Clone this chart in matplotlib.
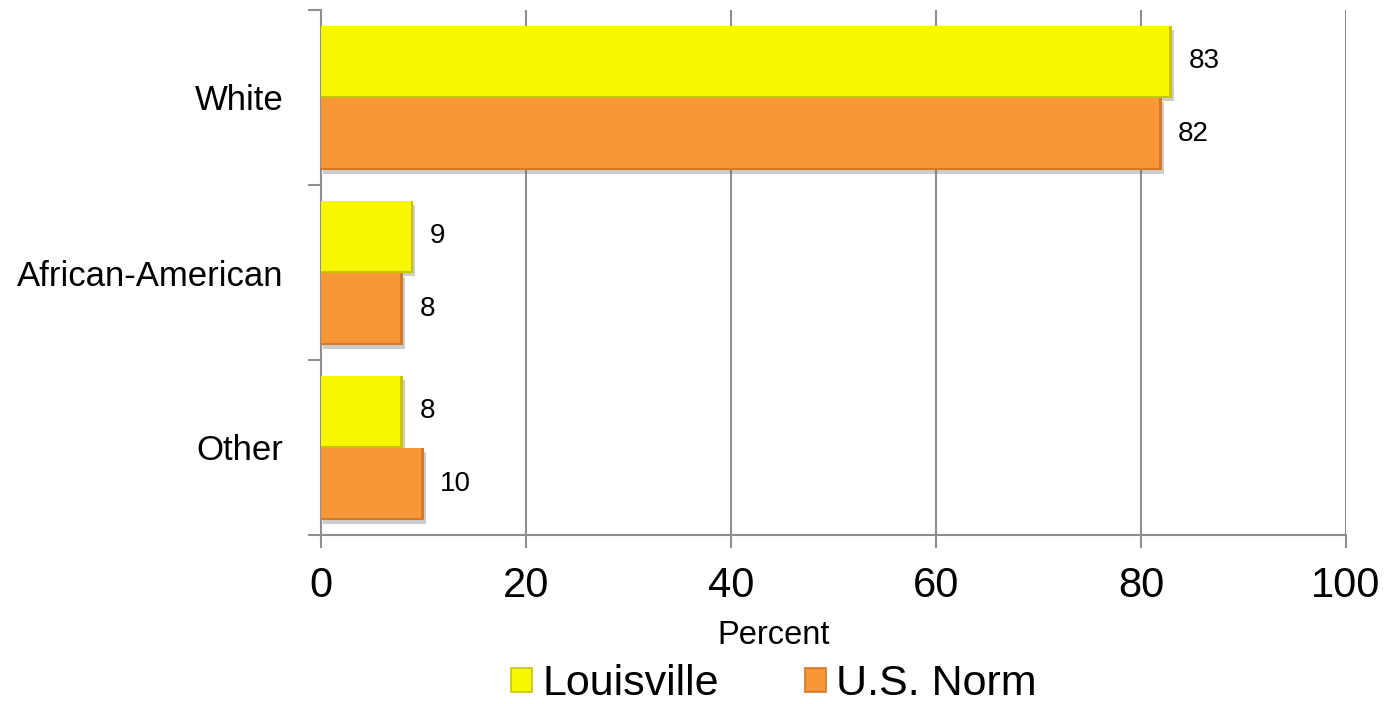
import matplotlib
matplotlib.use("Agg")
import matplotlib.pyplot as plt
from matplotlib.patches import Patch
import matplotlib.patheffects as pe
import numpy as np

plt.rcParams['font.family'] = ['Liberation Sans', 'DejaVu Sans']

categories = ["White", "African-American", "Other"]
series_names = ["Louisville", "U.S. Norm"]
louisville = [83, 9, 8]
us_norm = [82, 8, 10]
x_ticks = [0, 20, 40, 60, 80, 100]

colors = ["#F8F700", "#F79737"]
edge_dark = ["#C9C400", "#D27A2A"]
grid_color = "#8E8E8E"

fig = plt.figure(figsize=(13.85, 7.04), dpi=100)
ax = fig.add_axes([321 / 1385, 1 - 535 / 704, (1346 - 321) / 1385, (535 - 10) / 704])

y = np.arange(len(categories))
bar_h = 0.41
offset = 0.206

shadow = [pe.SimplePatchShadow(offset=(1.5, -3), shadow_rgbFace=(0.35, 0.35, 0.35), alpha=0.3), pe.Normal()]

for vals, sign, col, dark, name in [(louisville, -1, colors[0], edge_dark[0], series_names[0]),
                                     (us_norm, 1, colors[1], edge_dark[1], series_names[1])]:
    bars = ax.barh(y + sign * offset, vals, height=bar_h, color=col, edgecolor="none", zorder=3)
    for b in bars:
        b.set_path_effects(shadow)
    # darker bevel along right and bottom edges
    for yi, v in zip(y + sign * offset, vals):
        ax.barh(yi, 0.25, left=v - 0.25, height=bar_h, color=dark, edgecolor="none", zorder=4)
        ax.plot([0, v], [yi + bar_h / 2 - 0.004] * 2, color=dark, lw=1.5, zorder=4,
                solid_capstyle="butt")
    for yi, v in zip(y + sign * offset, vals):
        ax.annotate(f"{v}", xy=(v, yi), xytext=(12, 0), textcoords="offset points",
                    va="center", ha="left", fontsize=20, color="black", zorder=5)

ax.set_xlim(0, 100)
ax.set_ylim(2.5, -0.5)
ax.set_xticks(x_ticks)
ax.set_xticklabels([str(t) for t in x_ticks])
ax.tick_params(axis="x", direction="out", length=9, width=1.5, color=grid_color,
               labelsize=30, pad=13)

ax.set_yticks([-0.5, 0.5, 1.5, 2.5])
ax.set_yticklabels([])
ax.tick_params(axis="y", which="major", direction="out", length=9.5, width=1.5, color=grid_color)
ax.set_yticks(y, minor=True)
ax.set_yticklabels(categories, minor=True)
ax.tick_params(axis="y", which="minor", length=0, labelsize=25, pad=27)

ax.grid(axis="x", color=grid_color, lw=1.5, zorder=0)
ax.set_axisbelow(True)
for s in ["top", "right"]:
    ax.spines[s].set_visible(False)
for s in ["left", "bottom"]:
    ax.spines[s].set_color(grid_color)
    ax.spines[s].set_linewidth(1.5)

fig.text(774 / 1385, 1 - 636 / 704, "Percent", ha="center", va="center", fontsize=23.5)

handles = [Patch(facecolor=colors[0], edgecolor=edge_dark[0], linewidth=1.2),
           Patch(facecolor=colors[1], edgecolor=edge_dark[1], linewidth=1.2)]
fig.legend(handles, series_names, loc="center", bbox_to_anchor=(774 / 1385, 1 - 684 / 704),
           ncol=2, frameon=False, fontsize=31, handlelength=0.48, handleheight=0.48,
           handletextpad=0.25, columnspacing=2.0, borderpad=0)

fig.savefig("out.png", dpi=100)
